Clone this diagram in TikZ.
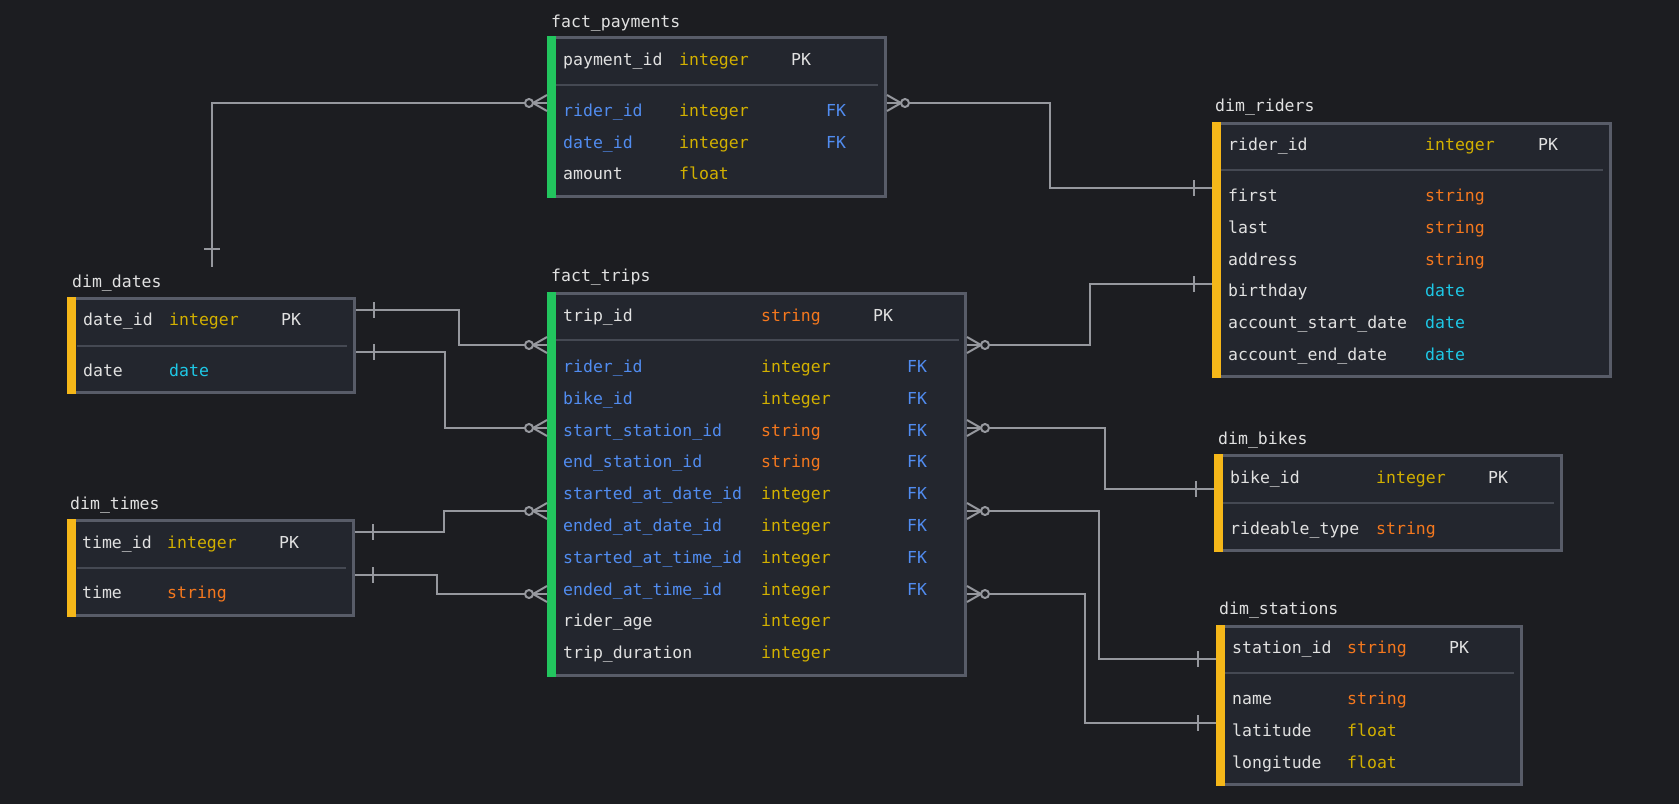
\documentclass[tikz,border=0pt]{standalone}
\usepackage{fontspec}
\setmonofont{DejaVu Sans Mono}
\usetikzlibrary{decorations.markings}

\definecolor{bg}{HTML}{1C1D21}
\definecolor{boxc}{HTML}{23262E}
\definecolor{edgec}{HTML}{585C68}
\definecolor{sepc}{HTML}{454953}
\definecolor{relc}{HTML}{96989E}
\definecolor{factc}{HTML}{22C55E}
\definecolor{dimc}{HTML}{F5B719}
\definecolor{txtc}{HTML}{E1E1E1}
\definecolor{fkc}{HTML}{518CF0}
\definecolor{c-integer}{HTML}{D2B000}
\definecolor{c-float}{HTML}{D2B000}
\definecolor{c-string}{HTML}{F5781E}
\definecolor{c-date}{HTML}{1EC8E6}

\begin{document}
\begin{tikzpicture}[
        x=1pt, y=-1pt,
        tbl/.style={draw=edgec, fill=boxc, line width=3pt, anchor=north west},
        ttl/.style={text=txtc, anchor=base west},
        fld/.style={anchor=base west},
        pk/.style={text=txtc, anchor=base west},
        fk/.style={text=fkc, anchor=base west},
        sep/.style={draw=sepc, line width=2pt},
        rel/.style={draw=relc, line width=2pt, postaction={decorate, decoration={markings,
            mark=at position 0pt with {
                \draw[relc, line width=2pt] (0pt,-8pt) -- (14pt,0pt) -- (0pt,8pt);
                \draw[relc, line width=2pt, fill=bg] (18pt,0pt) circle (4pt);
            },
            mark=at position -18pt with {
                \draw[relc, line width=2pt] (0pt,-8pt) -- (0pt,8pt);
            }}}}
    ]

    \tikzstyle{every node}=[inner sep=0pt, font=\ttfamily\fontsize{16.5}{20}\selectfont]

    \fill[bg] (0,0) rectangle (1679,804);

    % fact_payments
    \node[tbl, minimum width=337pt, minimum height=159pt] (payments) at (547,36) {};
    \fill[factc] (payments.north west) rectangle ([xshift=8.5pt]payments.south west);
    \draw[sep] (556,85) -- (878,85);
    \node[ttl] (payments-ttl) at (551,27) {fact\_payments};
    \foreach \yy/\nm/\ty/\nc [count=\i] in {
            65/payment\_id/integer/txtc,
            116/rider\_id/integer/fkc,
            148/date\_id/integer/fkc,
            179/amount/float/txtc} {
        \node[fld, text=\nc] (payments-n\i) at (563,\yy) {\nm};
        \node[fld, text=c-\ty] (payments-t\i) at (679,\yy) {\ty};
    }
    \node[pk] (payments-pk) at (791,65) {PK};
    \node[fk] (payments-k1) at (826,116) {FK};
    \node[fk] (payments-k2) at (826,148) {FK};

    % fact_trips
    \node[tbl, minimum width=417pt, minimum height=382pt] (trips) at (547,292) {};
    \fill[factc] (trips.north west) rectangle ([xshift=8.5pt]trips.south west);
    \draw[sep] (556,340) -- (959,340);
    \node[ttl] (trips-ttl) at (551,281) {fact\_trips};
    \foreach \yy/\nm/\ty/\nc [count=\i] in {
            321/trip\_id/string/txtc,
            372/rider\_id/integer/fkc,
            404/bike\_id/integer/fkc,
            436/start\_station\_id/string/fkc,
            467/end\_station\_id/string/fkc,
            499/started\_at\_date\_id/integer/fkc,
            531/ended\_at\_date\_id/integer/fkc,
            563/started\_at\_time\_id/integer/fkc,
            595/ended\_at\_time\_id/integer/fkc,
            626/rider\_age/integer/txtc,
            658/trip\_duration/integer/txtc} {
        \node[fld, text=\nc] (trips-n\i) at (563,\yy) {\nm};
        \node[fld, text=c-\ty] (trips-t\i) at (761,\yy) {\ty};
    }
    \node[pk] (trips-pk) at (873,321) {PK};
    \foreach \yy [count=\i] in {372,404,436,467,499,531,563,595}
        \node[fk] (trips-k\i) at (907,\yy) {FK};

    % dim_dates
    \node[tbl, minimum width=286pt, minimum height=94pt] (dates) at (67,297) {};
    \fill[dimc] (dates.north west) rectangle ([xshift=8.5pt]dates.south west);
    \draw[sep] (77,346) -- (347,346);
    \node[ttl] (dates-ttl) at (72,287) {dim\_dates};
    \node[fld, text=txtc] (dates-n1) at (83,325) {date\_id};
    \node[fld, text=c-integer] (dates-t1) at (169,325) {integer};
    \node[pk] (dates-pk) at (281,325) {PK};
    \node[fld, text=txtc] (dates-n2) at (83,376) {date};
    \node[fld, text=c-date] (dates-t2) at (169,376) {date};

    % dim_times
    \node[tbl, minimum width=285pt, minimum height=95pt] (times) at (67,519) {};
    \fill[dimc] (times.north west) rectangle ([xshift=8.5pt]times.south west);
    \draw[sep] (77,568) -- (346,568);
    \node[ttl] (times-ttl) at (70,509) {dim\_times};
    \node[fld, text=txtc] (times-n1) at (82,548) {time\_id};
    \node[fld, text=c-integer] (times-t1) at (167,548) {integer};
    \node[pk] (times-pk) at (279,548) {PK};
    \node[fld, text=txtc] (times-n2) at (82,598) {time};
    \node[fld, text=c-string] (times-t2) at (167,598) {string};

    % dim_riders
    \node[tbl, minimum width=397pt, minimum height=253pt] (riders) at (1212,122) {};
    \fill[dimc] (riders.north west) rectangle ([xshift=8.5pt]riders.south west);
    \draw[sep] (1221,170) -- (1603,170);
    \node[ttl] (riders-ttl) at (1215,111) {dim\_riders};
    \foreach \yy/\nm/\ty [count=\i] in {
            150/rider\_id/integer,
            201/first/string,
            233/last/string,
            265/address/string,
            296/birthday/date,
            328/account\_start\_date/date,
            360/account\_end\_date/date} {
        \node[fld, text=txtc] (riders-n\i) at (1228,\yy) {\nm};
        \node[fld, text=c-\ty] (riders-t\i) at (1425,\yy) {\ty};
    }
    \node[pk] (riders-pk) at (1538,150) {PK};

    % dim_bikes
    \node[tbl, minimum width=346pt, minimum height=95pt] (bikes) at (1214,454) {};
    \fill[dimc] (bikes.north west) rectangle ([xshift=8.5pt]bikes.south west);
    \draw[sep] (1223,503) -- (1554,503);
    \node[ttl] (bikes-ttl) at (1218,444) {dim\_bikes};
    \node[fld, text=txtc] (bikes-n1) at (1230,483) {bike\_id};
    \node[fld, text=c-integer] (bikes-t1) at (1376,483) {integer};
    \node[pk] (bikes-pk) at (1488,483) {PK};
    \node[fld, text=txtc] (bikes-n2) at (1230,534) {rideable\_type};
    \node[fld, text=c-string] (bikes-t2) at (1376,534) {string};

    % dim_stations
    \node[tbl, minimum width=304pt, minimum height=158pt] (stations) at (1216,625) {};
    \fill[dimc] (stations.north west) rectangle ([xshift=8.5pt]stations.south west);
    \draw[sep] (1225,673) -- (1514,673);
    \node[ttl] (stations-ttl) at (1219,614) {dim\_stations};
    \foreach \yy/\nm/\ty [count=\i] in {
            653/station\_id/string,
            704/name/string,
            736/latitude/float,
            768/longitude/float} {
        \node[fld, text=txtc] (stations-n\i) at (1232,\yy) {\nm};
        \node[fld, text=c-\ty] (stations-t\i) at (1347,\yy) {\ty};
    }
    \node[pk] (stations-pk) at (1449,653) {PK};

    % relations, drawn from the many side to the one side
    \coordinate (dates-end) at (212,267);
    \draw[rel] ([yshift=-67pt]payments.north west) -| (dates-end);
    \draw[rel] ([yshift=-67pt]payments.north east) -- ++(163,0) |- ([yshift=-66pt]riders.north west);
    \draw[rel] ([yshift=-53pt]trips.north west) -- ++(-88,0) |- ([yshift=-13pt]dates.north east);
    \draw[rel] ([yshift=-136pt]trips.north west) -- ++(-102,0) |- ([yshift=-55pt]dates.north east);
    \draw[rel] ([yshift=-219pt]trips.north west) -- ++(-103,0) |- ([yshift=-13pt]times.north east);
    \draw[rel] ([yshift=-302pt]trips.north west) -- ++(-110,0) |- ([yshift=-56pt]times.north east);
    \draw[rel] ([yshift=-53pt]trips.north east) -- ++(123,0) |- ([yshift=-162pt]riders.north west);
    \draw[rel] ([yshift=-136pt]trips.north east) -- ++(138,0) |- ([yshift=-35pt]bikes.north west);
    \draw[rel] ([yshift=-219pt]trips.north east) -- ++(132,0) |- ([yshift=-34pt]stations.north west);
    \draw[rel] ([yshift=-302pt]trips.north east) -- ++(118,0) |- ([yshift=-98pt]stations.north west);

\end{tikzpicture}
\end{document}
